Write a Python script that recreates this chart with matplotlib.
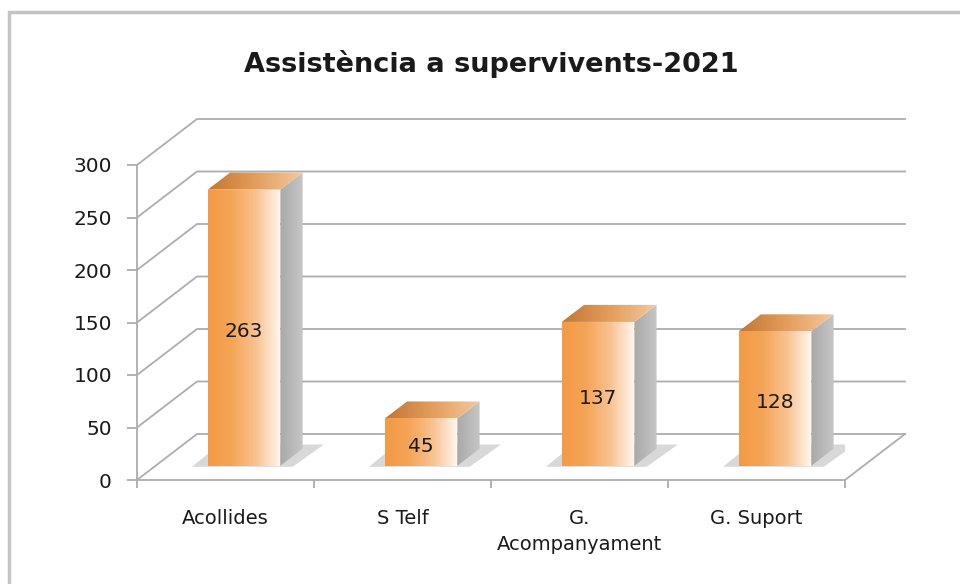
import matplotlib
matplotlib.use("Agg")
import matplotlib.pyplot as plt
import numpy as np
from matplotlib.patches import Polygon, Rectangle
from matplotlib.colors import LinearSegmentedColormap

# Dades del gràfic
categories = ["Acollides", "S Telf", "G.\nAcompanyament", "G. Suport"]
valors = [263, 45, 137, 128]
titol = "Assistència a supervivents-2021"
marques_y = [0, 50, 100, 150, 200, 250, 300]

GRIS = "#adadad"
TEXT = "#1a1a1a"

W, H = 960, 584
fig = plt.figure(figsize=(9.6, 5.84), dpi=100)

# l'eix principal és el pla frontal de la caixa 3D
x0, x1 = 137, 845
ybot, ytop = 480, 165
ax = fig.add_axes([x0 / W, 1 - ybot / H, (x1 - x0) / W, (ybot - ytop) / H])
n = len(categories)
ymax = marques_y[-1]

# vector de profunditat en unitats de dades
px_x = n / (x1 - x0)
px_y = ymax / (ybot - ytop)
DX = 60 * px_x
DY = 46 * px_y


def omple_gradient(verts, colors, zorder=2):
    poly = Polygon(verts, closed=True, facecolor="none", edgecolor="none",
                   transform=ax.transData)
    ax.add_patch(poly)
    xs = [p[0] for p in verts]
    ys = [p[1] for p in verts]
    cmap = LinearSegmentedColormap.from_list("g", colors)
    grad = np.linspace(0, 1, 256).reshape(1, -1)
    im = ax.imshow(grad, cmap=cmap, extent=[min(xs), max(xs), min(ys), max(ys)],
                   aspect="auto", origin="lower", interpolation="bilinear",
                   zorder=zorder)
    im.set_clip_path(poly)


# parets i línies de la graella
for v in marques_y:
    ax.plot([0, DX, n + DX], [v, v + DY, v + DY], color=GRIS, lw=1.3,
            clip_on=False, zorder=1)
ax.plot([n, n + DX], [0, DY], color=GRIS, lw=1.3, clip_on=False, zorder=1)

# barres 3D
amplada = 0.41
f_dav = 0.31
f_fons = 0.37
for i, v in enumerate(valors):
    xl = i + 0.5 - amplada / 2 + f_dav * DX
    xr = xl + amplada
    yb = f_dav * DY
    yt = yb + v
    ddx = f_fons * DX
    ddy = f_fons * DY

    # ombra a terra
    ombra = Polygon([(xl - 0.09, yb - 1), (xr + 0.07, yb - 1),
                     (xr + ddx + 0.12, yb + ddy + 4), (xl + ddx - 0.06, yb + ddy + 4)],
                    closed=True, facecolor="#d2d2d2", edgecolor="none", alpha=0.85,
                    zorder=1.5)
    ax.add_patch(ombra)

    omple_gradient([(xr, yb), (xr + ddx, yb + ddy), (xr + ddx, yt + ddy), (xr, yt)],
                   ["#a9a9a9", "#c6c6c6"], zorder=2)
    omple_gradient([(xl, yt), (xr, yt), (xr + ddx, yt + ddy), (xl + ddx, yt + ddy)],
                   ["#c27633", "#e39d5c", "#f3c9a0"], zorder=2)
    omple_gradient([(xl, yb), (xr, yb), (xr, yt), (xl, yt)],
                   ["#f39a43", "#f5a558", "#f8c392", "#fff8f2"], zorder=3)

    ax.text((xl + xr) / 2, yb + v / 2 - 4, str(v), ha="center", va="center",
            fontsize=14.5, color=TEXT, zorder=4)

ax.set_xlim(0, n)
ax.set_ylim(0, ymax)
ax.set_facecolor("none")

# eixos
ax.set_yticks(marques_y)
ax.tick_params(axis="y", length=7, width=1.3, color=GRIS, labelsize=14.5,
               labelcolor=TEXT, pad=11)
ax.set_xticks(np.arange(n + 1))
ax.set_xticklabels([])
ax.set_xticks(np.arange(n) + 0.5, minor=True)
ax.set_xticklabels(categories, minor=True, fontsize=14, color=TEXT,
                   linespacing=1.45)
ax.tick_params(axis="x", which="major", length=6, width=1.3, color=GRIS)
ax.tick_params(axis="x", which="minor", length=0, pad=21)
for s in ["top", "right"]:
    ax.spines[s].set_visible(False)
for s in ["left", "bottom"]:
    ax.spines[s].set_color(GRIS)
    ax.spines[s].set_linewidth(1.3)

fig.text(491 / W, 1 - 64 / H, titol, ha="center", va="center", fontsize=19.5,
         fontweight="bold", color=TEXT)

# marc exterior
fig.add_artist(Rectangle((9 / W, -0.1), 1.2, (1 - 12 / H) + 0.1,
                         transform=fig.transFigure, fill=False,
                         edgecolor="#c4c4c4", lw=2.5))

fig.savefig("out.png", dpi=100)
